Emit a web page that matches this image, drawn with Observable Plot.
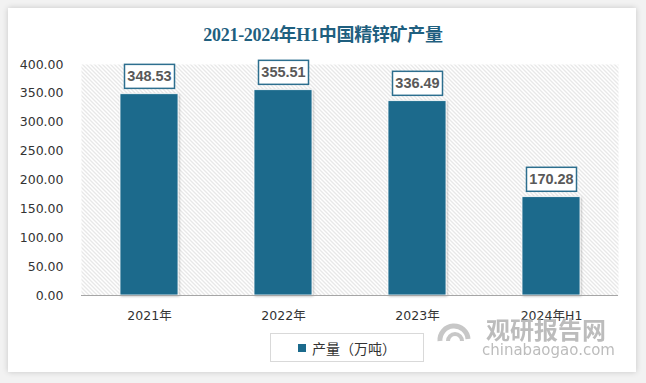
<!DOCTYPE html>
<html><head><meta charset="utf-8">
<script src="https://cdn.jsdelivr.net/npm/d3@7"></script>
<script src="https://cdn.jsdelivr.net/npm/@observablehq/plot@0.6"></script>
<style>
body{margin:0;background:#fff;}
#wrap{position:relative;width:646px;height:383px;overflow:hidden;background:#f2f2f2;}
#card{position:absolute;left:8px;top:8px;width:628px;height:364px;background:#fff;box-shadow:0 0 6px rgba(0,0,0,0.18);}
#title{position:absolute;left:0;top:20px;width:646px;text-align:center;font:bold 18px "Liberation Serif","Noto Sans CJK SC",serif;color:#1f5f7f;letter-spacing:-0.3px;}
#chart{position:absolute;left:0;top:50px;}
#legend{position:absolute;left:270px;top:333px;width:154px;height:29px;border:1px solid #d9d9d9;background:#fff;box-sizing:border-box;font:14px "Noto Sans CJK SC",sans-serif;color:#333;display:flex;align-items:center;justify-content:center;}
#legend span.sw{display:inline-block;width:8px;height:8px;background:#1b6a8c;margin-right:6px;}
#wm{position:absolute;left:432px;top:313px;color:#a0a0a0;opacity:0.7;font-family:"Noto Sans CJK SC",sans-serif;}
</style></head><body>
<div id="wrap">
<div id="card"></div>
<div id="title">2021-2024年H1中国精锌矿产量</div>
<div id="chart"></div>
<div id="legend"><span class="sw"></span>产量（万吨）</div>
<div id="wm">
<svg width="48" height="40" style="position:absolute;left:0;top:6px"><path d="M8,22 A14,14 0 1 1 36,20" fill="none" stroke="#b0b0b0" stroke-width="5"/><path d="M16,22 A7,7 0 1 1 30,22" fill="none" stroke="#b0b0b0" stroke-width="4"/></svg>
<div style="position:absolute;left:54px;top:-2px;font-weight:bold;font-size:24px;white-space:nowrap;">观研报告网</div>
<div style="position:absolute;left:50px;top:28px;font-size:15px;white-space:nowrap;font-family:'DejaVu Sans',sans-serif;">chinabaogao.com</div>
</div>
</div>
<script>
const categories = ["2021年", "2022年", "2023年", "2024年H1"];
const values = [348.53, 355.51, 336.49, 170.28];
const yTicks = [0, 50, 100, 150, 200, 250, 300, 350, 400];
const data = categories.map((c, i) => ({cat: c, value: values[i]}));

const plot = Plot.plot({
  width: 646,
  height: 280,
  marginLeft: 81,
  marginRight: 28,
  marginTop: 14,
  marginBottom: 35,
  style: {fontFamily: "'DejaVu Sans', 'Noto Sans CJK SC', sans-serif", fontSize: "12.5px", color: "#333", background: "transparent"},
  x: {domain: categories, paddingInner: 0.57, paddingOuter: 0.285, label: null, tickSize: 0, tickPadding: 16},
  y: {domain: [0, 400], ticks: yTicks, tickFormat: d => d.toFixed(2), label: null, tickSize: 0, tickPadding: 18},
  marks: [
    Plot.frame({fill: "#eee", stroke: null, className: "hatchframe"}),
    Plot.barY(data, {x: "cat", y: "value", fill: "#1b6a8c", stroke: "#fff", strokeWidth: 0.8, className: "bars"}),
    Plot.ruleY([0], {stroke: "#a6a6a6", strokeWidth: 1}),
    Plot.text(data, {x: "cat", y: "value", text: d => d.value.toFixed(2), dy: -17.5, lineAnchor: "middle", fill: "#595959", fontWeight: "bold", fontSize: 14.5, fontFamily: "'Liberation Sans', sans-serif", className: "vlabels"})
  ]
});
document.getElementById("chart").appendChild(plot);

// hatch pattern
const ns = "http://www.w3.org/2000/svg";
const defs = document.createElementNS(ns, "defs");
defs.innerHTML = '<pattern id="hatch" patternUnits="userSpaceOnUse" width="4" height="4"><rect width="4" height="4" fill="#fff"/><path d="M0,0 L4,4 M-1,3 L1,5 M3,-1 L5,1" stroke="#cccccc" stroke-width="0.9"/></pattern><filter id="shadow" x="-20%" y="-20%" width="140%" height="140%"><feDropShadow dx="1" dy="1" stdDeviation="1.2" flood-color="#000" flood-opacity="0.25"/></filter>';
plot.insertBefore(defs, plot.firstChild);
plot.querySelectorAll("g.hatchframe rect, rect.hatchframe").forEach(r => r.setAttribute("fill", "url(#hatch)"));
plot.querySelectorAll("g.bars rect").forEach(r => r.setAttribute("filter", "url(#shadow)"));

// label boxes
plot.querySelectorAll("g.vlabels text").forEach(t => {
  const b = t.getBBox();
  const r = document.createElementNS(ns, "rect");
  const w = 50, h = 24;
  r.setAttribute("x", b.x + b.width / 2 - w / 2);
  r.setAttribute("y", b.y + b.height / 2 - h / 2);
  r.setAttribute("width", w);
  r.setAttribute("height", h);
  r.setAttribute("fill", "#fff");
  r.setAttribute("stroke", "#2d6f8f");
  r.setAttribute("stroke-width", 1.5);
  const tr = t.getAttribute("transform");
  if (tr) r.setAttribute("transform", tr);
  t.parentNode.insertBefore(r, t);
});
</script>
</body></html>
